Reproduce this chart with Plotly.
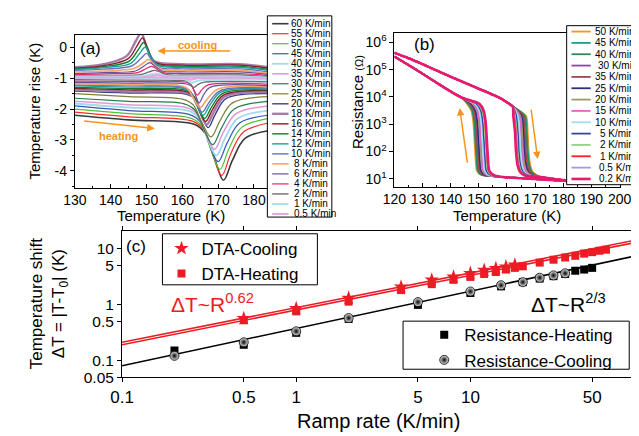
import plotly.graph_objects as go

W, H = 639, 436
FONT = "Liberation Sans, Arial, sans-serif"
ORANGE = "#f7941d"
RED = "#ed1c24"

# ---------------- panel (a): DTA curves ----------------
a_rates = ["60", "55", "50", "45", "40", "35", "30", "25", "20", "18", "16", "14", "12", "10", "8", "6", "4", "2", "1", "0.5"]
a_colors = ["#3a3a3a", "#ff2a2a", "#4cc23a", "#3a55b4", "#9fdcea", "#e597d6", "#1f7f4a", "#7f7f3a", "#3f3f87", "#a87aa8",
            "#8b1c2b", "#0f7f2a", "#17a398", "#6673c0", "#f5a56a", "#6b4fa0", "#e8246e", "#6e6e6e", "#a8e0ec", "#e0a8e0"]
a_widths = [1.6, 1.2, 1.2, 1.2, 1.8, 1.6, 1.2, 1.2, 1.4, 2.4, 1.4, 1.4, 1.4, 1.4, 1.6, 1.2, 1.2, 1.4, 2.0, 2.0]

a_heat_T = [
    [130, 145, 163.5, 166.5, 169, 171.5, 174, 177.5, 184],
    [130, 145, 163, 166, 168.5, 171, 173.5, 177, 184],
    [130, 145, 162.5, 165.5, 168, 170.5, 173, 176.5, 184],
    [130, 145, 162, 165, 167.5, 170, 172.5, 176, 184],
    [130, 145, 161.5, 164.5, 167, 169.5, 172, 175.5, 184],
    [130, 145, 161, 164, 166.5, 169, 171.5, 175, 184],
    [130, 145, 160.5, 163.5, 166, 168.5, 171, 174.5, 184],
    [130, 145, 160, 163, 165.5, 168, 170.5, 174, 184],
    [130, 145, 161.2, 163.7, 165.4, 167.2, 169.2, 172.2, 184],
    [130, 145, 160.8, 163.3, 165, 166.8, 168.8, 171.8, 184],
    [130, 145, 160.5, 163, 164.7, 166.5, 168.5, 171.5, 184],
    [130, 145, 160.2, 162.7, 164.4, 166.2, 168.2, 171.2, 184],
    [130, 145, 159.8, 162.3, 164, 165.8, 167.8, 170.8, 184],
    [130, 145, 159.5, 162, 163.7, 165.5, 167.5, 170.5, 184],
    [130, 145, 159, 161.5, 163.2, 165, 167, 170, 184],
    [130, 145, 160.7, 162.7, 163.7, 164.7, 165.9, 167.7, 184],
    [130, 145, 160.2, 162.2, 163.2, 164.2, 165.4, 167.2, 184],
    [130, 145, 159.2, 161.2, 162.2, 163.2, 164.4, 166.2, 184],
    [130, 145, 158.7, 160.7, 161.7, 162.7, 163.9, 165.7, 184],
    [130, 145, 158.3, 160.3, 161.3, 162.3, 163.5, 165.3, 184],
]
a_heat_dT = [
    [-2.2, -2.35, -2.5, -2.8, -3.6, -4.3, -3.65, -2.95, -2.7],
    [-2.1, -2.25, -2.4, -2.67, -3.48, -4.15, -3.45, -2.75, -2.45],
    [-2.0, -2.15, -2.3, -2.55, -3.32, -3.95, -3.28, -2.6, -2.3],
    [-1.9, -2.05, -2.18, -2.41, -3.12, -3.7, -3.1, -2.45, -2.2],
    [-1.82, -1.95, -2.05, -2.27, -2.95, -3.5, -2.92, -2.3, -2.05],
    [-1.75, -1.86, -1.95, -2.15, -2.79, -3.3, -2.74, -2.15, -1.9],
    [-1.65, -1.75, -1.83, -2.03, -2.65, -3.15, -2.6, -2.0, -1.75],
    [-1.5, -1.6, -1.68, -1.86, -2.44, -2.9, -2.38, -1.8, -1.6],
    [-1.42, -1.48, -1.52, -1.68, -2.19, -2.6, -2.17, -1.66, -1.5],
    [-1.38, -1.43, -1.47, -1.62, -2.11, -2.5, -2.09, -1.6, -1.45],
    [-1.33, -1.38, -1.42, -1.57, -2.03, -2.4, -2.0, -1.55, -1.4],
    [-1.3, -1.34, -1.37, -1.51, -1.95, -2.3, -1.93, -1.5, -1.38],
    [-1.25, -1.29, -1.32, -1.45, -1.87, -2.2, -1.85, -1.45, -1.35],
    [-1.22, -1.25, -1.28, -1.4, -1.79, -2.1, -1.78, -1.41, -1.32],
    [-1.18, -1.21, -1.23, -1.34, -1.68, -1.95, -1.67, -1.35, -1.28],
    [-1.14, -1.16, -1.18, -1.27, -1.56, -1.8, -1.55, -1.3, -1.25],
    [-1.1, -1.11, -1.12, -1.18, -1.38, -1.55, -1.38, -1.22, -1.2],
    [-1.05, -1.06, -1.07, -1.1, -1.2, -1.3, -1.2, -1.13, -1.12],
    [-1.0, -1.01, -1.02, -1.04, -1.1, -1.15, -1.1, -1.06, -1.05],
    [-0.96, -0.97, -0.98, -0.99, -1.02, -1.05, -1.02, -1.0, -1.0],
]

a_cool_rates = ["18", "16", "14", "12", "10", "8", "6", "4", "2", "1", "0.5"]
a_cool_T = [
    [130, 138, 144.5, 147, 148.5, 150, 152, 160, 176, 184],
    [130, 138, 144.9, 147.4, 148.9, 150.4, 152.4, 160, 176, 184],
    [130, 138, 145.2, 147.7, 149.2, 150.7, 152.7, 160, 176, 184],
    [130, 138, 145.6, 148.1, 149.6, 151.1, 153.1, 160, 176, 184],
    [130, 138, 146, 148.5, 150, 151.5, 153.5, 160, 176, 184],
    [130, 138, 146.5, 149, 150.5, 152, 154, 160, 176, 184],
    [130, 138, 146.9, 149.4, 150.9, 152.4, 154.4, 160, 176, 184],
    [130, 138, 147.5, 150, 151.5, 153, 155, 160, 176, 184],
    [130, 138, 148.2, 150.7, 152.2, 153.7, 155.7, 160, 176, 184],
    [130, 138, 148.6, 151.1, 152.6, 154.1, 156.1, 160, 176, 184],
    [130, 138, 149, 151.5, 153, 154.5, 156.5, 160, 176, 184],
]
a_cool_dT = [
    [-0.65, -0.55, -0.28, 0.2, 0.45, 0.03, -0.44, -0.55, -0.55, -0.65],
    [-0.68, -0.6, -0.37, 0.05, 0.3, -0.07, -0.49, -0.58, -0.58, -0.68],
    [-0.7, -0.63, -0.45, -0.08, 0.15, -0.18, -0.54, -0.62, -0.62, -0.72],
    [-0.72, -0.66, -0.52, -0.2, 0.0, -0.28, -0.58, -0.65, -0.65, -0.75],
    [-0.75, -0.71, -0.6, -0.36, -0.2, -0.42, -0.65, -0.7, -0.7, -0.8],
    [-0.8, -0.77, -0.69, -0.52, -0.4, -0.55, -0.71, -0.75, -0.75, -0.84],
    [-0.85, -0.82, -0.77, -0.6, -0.5, -0.62, -0.77, -0.8, -0.8, -0.88],
    [-0.88, -0.86, -0.82, -0.69, -0.62, -0.72, -0.83, -0.85, -0.85, -0.92],
    [-0.92, -0.91, -0.89, -0.8, -0.75, -0.8, -0.89, -0.9, -0.9, -0.96],
    [-0.95, -0.95, -0.93, -0.88, -0.85, -0.89, -0.94, -0.95, -0.95, -0.99],
    [-0.98, -0.98, -0.97, -0.93, -0.9, -0.93, -0.97, -0.98, -0.98, -1.01],
]

# ---------------- panel (b): resistance curves ----------------
b_rates = ["50", "45", "40", "30", "35", "25", "20", "15", "10", "5", "2", "1", "0.5", "0.2"]
b_colors = ["#f7941d", "#1fa08a", "#2e8b57", "#8e44ad", "#a0465a", "#2b2f7f", "#9a9a6a", "#e066c8", "#9fdff0", "#3346a8",
            "#96d28a", "#ff1e1e", "#a59bd6", "#e8196e"]
b_label_x = [597, 597, 597, 600, 597, 597, 597, 597, 597, 603, 603, 603, 602, 602]

b_heat_head_T = [120, 125, 130, 135, 140, 145, 150, 155, 158, 160, 162]
b_heat_head_logR = [5.62, 5.42, 5.2, 4.97, 4.74, 4.52, 4.3, 4.08, 3.93, 3.8, 3.65]
b_heat_levels = [3.3, 2.7, 2.0, 1.5, 1.25, 1.12]
b_heat_T = [
    [166.75, 167.35, 167.7, 168.25, 169.15, 170.85],
    [166.45, 167.05, 167.4, 167.95, 168.85, 170.55],
    [166.25, 166.85, 167.2, 167.75, 168.65, 170.35],
    [165.45, 166.05, 166.4, 166.95, 167.85, 169.55],
    [165.75, 166.35, 166.7, 167.25, 168.15, 169.85],
    [165.15, 165.75, 166.1, 166.65, 167.55, 169.25],
    [164.75, 165.35, 165.7, 166.25, 167.15, 168.85],
    [164.35, 164.95, 165.3, 165.85, 166.75, 168.45],
    [163.85, 164.45, 164.8, 165.35, 166.25, 167.95],
    [163.25, 163.85, 164.2, 164.75, 165.65, 167.35],
    [162.8, 163.4, 163.75, 164.3, 165.2, 166.9],
    [162.55, 163.15, 163.5, 164.05, 164.95, 166.65],
    [162.45, 163.05, 163.4, 163.95, 164.85, 166.55],
    [162.25, 162.85, 163.2, 163.75, 164.65, 166.35],
]
b_heat_tail_T = [172, 176, 180, 185]
b_heat_tail_logR = [1.06, 1.0, 0.95, 0.9]

b_cool_head_T = [120, 125, 130, 135, 140, 144]
b_cool_head_logR = [5.48, 5.17, 4.85, 4.52, 4.2, 3.97]
b_cool_levels = [3.75, 3.5, 3.1, 2.5, 1.8, 1.3, 1.15]
b_cool_T = [
    [145.8, 147.3, 148.0, 148.4, 148.8, 149.3, 150.6],
    [146.1, 147.6, 148.3, 148.7, 149.1, 149.6, 150.9],
    [146.3, 147.8, 148.5, 148.9, 149.3, 149.8, 151.1],
    [147.0, 148.5, 149.2, 149.6, 150.0, 150.5, 151.8],
    [146.7, 148.2, 148.9, 149.3, 149.7, 150.2, 151.5],
    [147.3, 148.8, 149.5, 149.9, 150.3, 150.8, 152.1],
    [147.8, 149.3, 150.0, 150.4, 150.8, 151.3, 152.6],
    [148.1, 149.6, 150.3, 150.7, 151.1, 151.6, 152.9],
    [148.6, 150.1, 150.8, 151.2, 151.6, 152.1, 153.4],
    [149.2, 150.7, 151.4, 151.8, 152.2, 152.7, 154.0],
    [149.7, 151.2, 151.9, 152.3, 152.7, 153.2, 154.5],
    [150.0, 151.5, 152.2, 152.6, 153.0, 153.5, 154.8],
    [150.1, 151.6, 152.3, 152.7, 153.1, 153.6, 154.9],
    [150.2, 151.7, 152.4, 152.8, 153.2, 153.7, 155.0],
]
b_cool_tail_T = [157, 160, 165, 170, 175, 180, 185]
b_cool_tail_logR = [1.08, 1.05, 1.02, 0.99, 0.96, 0.93, 0.9]

# ---------------- panel (c): temperature shift vs ramp rate ----------------
c_dta_cool_rate = [0.5, 1, 2, 4, 6, 8, 10, 12, 14, 16, 18]
c_dta_cool_dT = [0.56, 0.85, 1.3, 2.05, 2.75, 3.1, 3.6, 4.1, 4.4, 4.7, 5.1]
c_dta_heat_rate = [0.5, 1, 2, 4, 6, 8, 10, 12, 14, 16, 18, 20, 25, 30, 35, 40, 45, 50, 55, 60]
c_dta_heat_dT = [0.52, 0.75, 1.12, 1.8, 2.3, 2.75, 3.1, 3.5, 3.8, 4.2, 4.5, 4.8, 5.6, 6.3, 6.9, 7.4, 8.1, 8.6, 9.1, 9.5]
c_res_heat_rate = [0.2, 0.5, 1, 2, 5, 10, 15, 20, 25, 30, 35, 40, 45, 50]
c_res_heat_dT = [0.15, 0.19, 0.31, 0.55, 0.98, 1.6, 2.1, 2.5, 2.9, 3.2, 3.5, 4.0, 4.2, 4.5]
c_res_cool_rate = [0.2, 0.5, 1, 2, 5, 10, 15, 20, 25, 30, 35]
c_res_cool_dT = [0.12, 0.21, 0.33, 0.57, 1.1, 1.7, 2.2, 2.5, 3.0, 3.3, 3.6]
c_fit_rate = [0.1, 100]
c_fit_dta_cool = [0.21, 15.2]
c_fit_dta_heat = [0.19, 13.8]
c_fit_res = [0.08, 8.0]


def px(x):
    return x / W


def py(y):
    return 1 - y / H


fig = go.Figure()
a_col = dict(zip(a_rates, a_colors))
a_wid = dict(zip(a_rates, a_widths))

for r, T, d in zip(a_rates, a_heat_T, a_heat_dT):
    fig.add_trace(go.Scatter(x=T, y=d, mode="lines", xaxis="x", yaxis="y", showlegend=False,
                             line=dict(color=a_col[r], width=a_wid[r], shape="spline", smoothing=1.0)))
for r, T, d in zip(a_cool_rates, a_cool_T, a_cool_dT):
    fig.add_trace(go.Scatter(x=T, y=d, mode="lines", xaxis="x", yaxis="y", showlegend=False,
                             line=dict(color=a_col[r], width=a_wid[r], shape="spline", smoothing=1.0)))

for i, r in enumerate(b_rates):
    wid = 2.6 if r == "0.2" else 1.8
    T = b_heat_head_T + b_heat_T[i] + b_heat_tail_T
    L = b_heat_head_logR + b_heat_levels + b_heat_tail_logR
    fig.add_trace(go.Scatter(x=T, y=[10 ** v for v in L], mode="lines", xaxis="x2", yaxis="y2", showlegend=False,
                             line=dict(color=b_colors[i], width=wid, shape="spline", smoothing=0.7)))
    T = b_cool_head_T + b_cool_T[i] + b_cool_tail_T
    L = b_cool_head_logR + b_cool_levels + b_cool_tail_logR
    fig.add_trace(go.Scatter(x=T, y=[10 ** v for v in L], mode="lines", xaxis="x2", yaxis="y2", showlegend=False,
                             line=dict(color=b_colors[i], width=wid, shape="spline", smoothing=0.7)))

# fit lines
for yy, col in [(c_fit_dta_cool, RED), (c_fit_dta_heat, RED), (c_fit_res, "black")]:
    fig.add_trace(go.Scatter(x=c_fit_rate, y=yy, mode="lines", xaxis="x3", yaxis="y3", showlegend=False,
                             line=dict(color=col, width=1.6)))

fig.add_trace(go.Scatter(x=c_dta_cool_rate, y=c_dta_cool_dT, mode="markers", name="DTA-Cooling", legend="legend",
                         xaxis="x3", yaxis="y3", marker=dict(symbol="star", size=11, color=RED)))
fig.add_trace(go.Scatter(x=c_dta_heat_rate, y=c_dta_heat_dT, mode="markers", name="DTA-Heating", legend="legend",
                         xaxis="x3", yaxis="y3", marker=dict(symbol="square", size=8, color=RED)))
fig.add_trace(go.Scatter(x=c_res_heat_rate, y=c_res_heat_dT, mode="markers", name="Resistance-Heating", legend="legend2",
                         xaxis="x3", yaxis="y3", marker=dict(symbol="square", size=8, color="black")))
fig.add_trace(go.Scatter(x=c_res_cool_rate, y=c_res_cool_dT, mode="markers", name="Resistance-Cooling", legend="legend2",
                         xaxis="x3", yaxis="y3",
                         marker=dict(symbol="circle", size=9, color="#e8e8e8",
                                     gradient=dict(type="radial", color="black"),
                                     line=dict(color="black", width=0.8))))

axis_common = dict(showline=True, linecolor="black", linewidth=1, mirror=True, ticks="outside", ticklen=4,
                   tickcolor="black", showgrid=False, zeroline=False)

shapes = []
ann = []

# legend of panel (a)
shapes.append(dict(type="rect", xref="paper", yref="paper", x0=px(257), x1=px(324), y0=py(213), y1=py(8),
                   line=dict(color="black", width=1), fillcolor="white", layer="above"))
for i, r in enumerate(a_rates):
    yc = 16 + i * 10.2
    shapes.append(dict(type="line", xref="paper", yref="paper", x0=px(262), x1=px(279), y0=py(yc), y1=py(yc),
                       line=dict(color=a_colors[i], width=a_widths[i]), layer="above"))
    xl = 279 if len(r) == 2 else 283
    ann.append(dict(text=r + " K/min", x=px(xl), y=py(yc), xref="paper", yref="paper", xanchor="left",
                    yanchor="middle", showarrow=False, font=dict(size=10, color="black")))

# legend of panel (b)
shapes.append(dict(type="rect", xref="paper", yref="paper", x0=px(568), x1=px(660), y0=py(180), y1=py(18),
                   line=dict(color="black", width=1), fillcolor="white", layer="above"))
for i, r in enumerate(b_rates):
    yc = 24 + i * 11.55
    shapes.append(dict(type="line", xref="paper", yref="paper", x0=px(573), x1=px(593), y0=py(yc), y1=py(yc),
                       line=dict(color=b_colors[i], width=2.6 if r == "0.2" else 1.8), layer="above"))
    ann.append(dict(text=r + " K/min", x=px(b_label_x[i] - 2), y=py(yc), xref="paper", yref="paper", xanchor="left",
                    yanchor="middle", showarrow=False, font=dict(size=10, color="black")))

# legend boxes of panel (c)
shapes.append(dict(type="rect", xref="paper", yref="paper", x0=px(148), x1=px(309), y0=py(282), y1=py(230),
                   line=dict(color="black", width=1), fillcolor="rgba(0,0,0,0)", layer="above"))
shapes.append(dict(type="rect", xref="paper", yref="paper", x0=px(398), x1=px(633), y0=py(368), y1=py(319),
                   line=dict(color="black", width=1), fillcolor="rgba(0,0,0,0)", layer="above"))

# axis titles
ann += [
    dict(text="Temperature rise (K)", x=px(15), y=py(105), textangle=-90, font=dict(size=15)),
    dict(text="Temperature (K)", x=px(157), y=py(211), font=dict(size=15)),
    dict(text="Resistance <span style='font-size:11px'>(Ω)</span>", x=px(350), y=py(96), textangle=-90,
         font=dict(size=15)),
    dict(text="Temperature (K)", x=px(506), y=py(211), font=dict(size=15)),
    dict(text="Ramp rate (K/min)", x=px(372), y=py(421), font=dict(size=20)),
    dict(text="Temperature shift<br>ΔT = |T-T<sub>0</sub>| (K)", x=px(31), y=py(301), textangle=-90,
         font=dict(size=17)),
]
for a in ann[-6:]:
    a.update(xref="paper", yref="paper", showarrow=False, xanchor="center", yanchor="middle")

# panel labels and notes
ann += [
    dict(text="(a)", x=px(60), y=py(41), xref="paper", yref="paper", xanchor="left", yanchor="middle",
         showarrow=False, font=dict(size=17)),
    dict(text="(b)", x=px(407), y=py(37), xref="paper", yref="paper", xanchor="left", yanchor="middle",
         showarrow=False, font=dict(size=17)),
    dict(text="(c)", x=px(108), y=py(243), xref="paper", yref="paper", xanchor="left", yanchor="middle",
         showarrow=False, font=dict(size=17)),
    dict(text="<b>cooling</b>", x=164.1, y=0.08, xref="x", yref="y", showarrow=False,
         font=dict(size=11, color=ORANGE)),
    dict(text="<b>heating</b>", x=142.1, y=-2.86, xref="x", yref="y", showarrow=False,
         font=dict(size=11, color=ORANGE)),
    dict(text="", x=153.1, y=-0.12, ax=173.8, ay=-0.12, xref="x", yref="y", axref="x", ayref="y",
         showarrow=True, arrowhead=2, arrowsize=1, arrowwidth=1.5, arrowcolor=ORANGE),
    dict(text="", x=152.3, y=-2.63, ax=132.2, ay=-2.38, xref="x", yref="y", axref="x", ayref="y",
         showarrow=True, arrowhead=2, arrowsize=1, arrowwidth=1.5, arrowcolor=ORANGE),
    dict(text="", x=143.2, y=3.59, ax=146.0, ay=1.54, xref="x2", yref="y2", axref="x2", ayref="y2",
         showarrow=True, arrowhead=2, arrowsize=1, arrowwidth=1.5, arrowcolor=ORANGE),
    dict(text="", x=170.9, y=1.72, ax=168.5, ay=3.59, xref="x2", yref="y2", axref="x2", ayref="y2",
         showarrow=True, arrowhead=2, arrowsize=1, arrowwidth=1.5, arrowcolor=ORANGE),
    dict(text="ΔT~R<sup>0.62</sup>", x=px(155), y=py(301), xref="paper", yref="paper", xanchor="left",
         yanchor="middle", showarrow=False, font=dict(size=21, color=RED)),
    dict(text="ΔT~R<sup>2/3</sup>", x=px(529), y=py(301), xref="paper", yref="paper", xanchor="left",
         yanchor="middle", showarrow=False, font=dict(size=21, color="black")),
]

x_inside = {**axis_common, "ticks": "inside", "ticklen": 4}

fig.update_layout(
    width=W, height=H, autosize=False,
    margin=dict(l=0, r=0, t=0, b=0),
    paper_bgcolor="white", plot_bgcolor="white",
    font=dict(family=FONT, color="black"),
    showlegend=True,
    xaxis=dict(domain=[px(57), px(258)], range=[130, 184], anchor="y", tickvals=[130, 140, 150, 160, 170, 180],
               tickfont=dict(size=14), minor=dict(dtick=5, ticks="inside", ticklen=2, tickcolor="black"),
               **x_inside),
    yaxis=dict(domain=[py(183), py(27)], range=[-4.54, 0.41], anchor="x", tickvals=[0, -1, -2, -3, -4],
               ticktext=["0", "-1", "-2", "-3", "-4"], tickfont=dict(size=14),
               minor=dict(dtick=0.5, ticks="outside", ticklen=2, tickcolor="black"), **axis_common),
    xaxis2=dict(domain=[px(389), px(623)], range=[120, 200], anchor="y2", dtick=10, tickfont=dict(size=14),
                minor=dict(dtick=5, ticks="inside", ticklen=2, tickcolor="black"), **x_inside),
    yaxis2=dict(domain=[py(182), py(25)], type="log", range=[0.71, 6.36], anchor="x2",
                tickvals=[10, 100, 1000, 1e4, 1e5, 1e6],
                ticktext=["10<sup>1</sup>", "10<sup>2</sup>", "10<sup>3</sup>", "10<sup>4</sup>", "10<sup>5</sup>",
                          "10<sup>6</sup>"], tickfont=dict(size=14), **axis_common),
    xaxis3=dict(domain=[px(106), 1.0], type="log", range=[-1, 1.945], anchor="y3",
                tickvals=[0.1, 0.5, 1, 5, 10, 50], ticktext=["0.1", "0.5", "1", "5", "10", "50"],
                tickfont=dict(size=17), **{**axis_common, "mirror": "ticks"}),
    yaxis3=dict(domain=[py(376), py(227)], type="log", range=[-1.301, 1.316], anchor="x3",
                tickvals=[0.05, 0.1, 0.5, 1, 5, 10], ticktext=["0.05", "0.1", "0.5", "1", "5", "10"],
                tickfont=dict(size=15.5), **{**axis_common, "mirror": "ticks"}),
    legend=dict(x=px(147), y=py(227), xanchor="left", yanchor="top", bgcolor="rgba(0,0,0,0)", borderwidth=0,
                font=dict(size=17), itemwidth=30, tracegroupgap=0),
    legend2=dict(x=px(420), y=py(315), xanchor="left", yanchor="top", bgcolor="rgba(0,0,0,0)", borderwidth=0,
                 font=dict(size=17), itemwidth=30, tracegroupgap=0),
    shapes=shapes,
    annotations=ann,
)

fig.write_html("out.html")
